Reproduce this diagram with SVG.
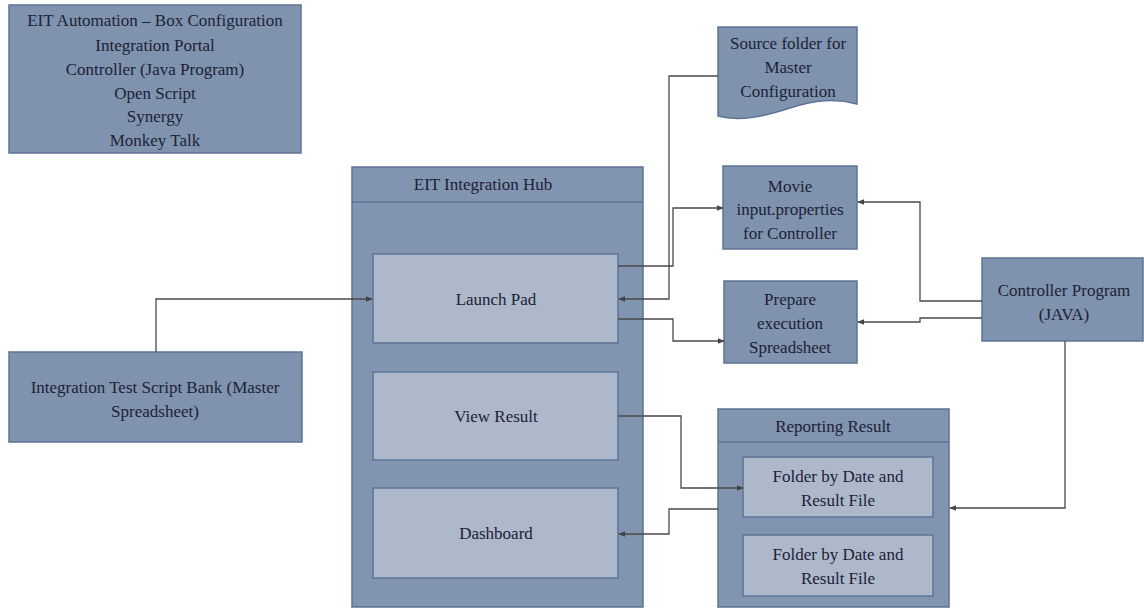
<svg xmlns="http://www.w3.org/2000/svg" width="1144" height="608" viewBox="0 0 1144 608" font-family="'Liberation Serif', 'Times New Roman', serif">
<style>
.box{fill:#7f92ae;stroke:#5d7396;stroke-width:1.5}
.hub{fill:#8194b0;stroke:#5d7396;stroke-width:1.5}
.inner{fill:#adb8cb;stroke:#5d7396;stroke-width:1.5}
.t{font-size:17px;fill:#1c2236;text-anchor:middle}
.c{fill:none;stroke:#4a4a4a;stroke-width:1.3}
</style>
<defs>
<marker id="a" viewBox="0 0 10 10" refX="9" refY="5" markerWidth="7" markerHeight="7" orient="auto" markerUnits="userSpaceOnUse">
<path d="M0,1 L10,5 L0,9 Z" fill="#444"/>
</marker>
</defs>
<rect width="1144" height="608" fill="#ffffff"/>
<g id="legend">
<rect class="box" x="9" y="5" width="292" height="148"/>
<text class="t" x="155" y="26">EIT Automation – Box Configuration</text>
<text class="t" x="155" y="51">Integration Portal</text>
<text class="t" x="155" y="75">Controller (Java Program)</text>
<text class="t" x="155" y="99">Open Script</text>
<text class="t" x="155" y="122">Synergy</text>
<text class="t" x="155" y="146">Monkey Talk</text>
</g>
<g id="hub">
<rect class="hub" x="352" y="167" width="291" height="440"/>
<line x1="352" y1="202" x2="643" y2="202" stroke="#5d7396" stroke-width="1.5"/>
<text class="t" x="483" y="190">EIT Integration Hub</text>
</g>
<g id="launchpad">
<rect class="inner" x="373" y="254" width="245" height="89"/>
<text class="t" x="496" y="305">Launch Pad</text>
</g>
<g id="viewresult">
<rect class="inner" x="373" y="372" width="245" height="88"/>
<text class="t" x="496" y="422">View Result</text>
</g>
<g id="dashboard">
<rect class="inner" x="373" y="488" width="245" height="90"/>
<text class="t" x="496" y="539">Dashboard</text>
</g>
<g id="scriptbank">
<rect class="box" x="9" y="352" width="293" height="90"/>
<text class="t" x="155" y="393">Integration Test Script Bank (Master</text>
<text class="t" x="155" y="417">Spreadsheet)</text>
</g>
<g id="sourcefolder">
<path class="box" d="M718,27 H857 V104 C835,98 815,100 790,108 C765,116 740,122 718,116 Z"/>
<text class="t" x="788" y="49">Source folder for</text>
<text class="t" x="788" y="73">Master</text>
<text class="t" x="788" y="97">Configuration</text>
</g>
<g id="movie">
<rect class="box" x="723" y="166" width="134" height="83"/>
<text class="t" x="790" y="192">Movie</text>
<text class="t" x="790" y="215">input.properties</text>
<text class="t" x="790" y="239">for Controller</text>
</g>
<g id="prepare">
<rect class="box" x="724" y="281" width="133" height="82"/>
<text class="t" x="790" y="305">Prepare</text>
<text class="t" x="790" y="329">execution</text>
<text class="t" x="790" y="353">Spreadsheet</text>
</g>
<g id="controller">
<rect class="box" x="982" y="258" width="161" height="83"/>
<text class="t" x="1064" y="296">Controller Program</text>
<text class="t" x="1064" y="320">(JAVA)</text>
</g>
<g id="reporting">
<rect class="hub" x="718" y="409" width="231" height="198"/>
<line x1="718" y1="442" x2="949" y2="442" stroke="#5d7396" stroke-width="1.5"/>
<text class="t" x="833" y="432">Reporting Result</text>
</g>
<g id="folder1">
<rect class="inner" x="743" y="457" width="190" height="60"/>
<text class="t" x="838" y="482">Folder by Date and</text>
<text class="t" x="838" y="506">Result File</text>
</g>
<g id="folder2">
<rect class="inner" x="743" y="535" width="190" height="61"/>
<text class="t" x="838" y="560">Folder by Date and</text>
<text class="t" x="838" y="584">Result File</text>
</g>
<g id="connectors">
<path class="c" d="M156,352 V299 H372" marker-end="url(#a)"/>
<path class="c" d="M718,76 H669 V299 H619" marker-end="url(#a)"/>
<path class="c" d="M618,266 H673 V208 H723" marker-end="url(#a)"/>
<path class="c" d="M618,319 H673 V341 H724" marker-end="url(#a)"/>
<path class="c" d="M982,301 H920 V202 H858" marker-end="url(#a)"/>
<path class="c" d="M982,318 H920 V322 H858" marker-end="url(#a)"/>
<path class="c" d="M1065,341 V508 H950" marker-end="url(#a)"/>
<path class="c" d="M618,416 H681 V488 H743" marker-end="url(#a)"/>
<path class="c" d="M718,509 H669 V534 H619" marker-end="url(#a)"/>
</g>
</svg>
